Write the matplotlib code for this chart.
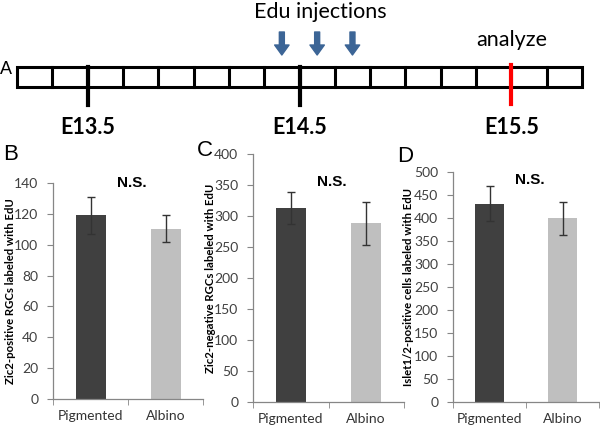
import matplotlib.pyplot as plt
from matplotlib.patches import Rectangle

# timeline (hours after E13.5)
cell_hours = 4
timeline_start = -8
timeline_end = 56
day_labels = ["E13.5", "E14.5", "E15.5"]
day_hours = [0, 24, 48]
injection_hours = [22, 26, 30]
analyze_hour = 48

# bar panels
groups = ["Pigmented", "Albino"]
zic2_pos = [119, 110.5]
zic2_pos_err = [12, 9]
zic2_neg = [313, 288]
zic2_neg_err = [25.5, 34.5]
islet = [431, 399]
islet_err = [37.5, 36.5]

ylabels = [
    "Zic2-positive RGCs labeled with EdU",
    "Zic2-negative RGCs labeled with EdU",
    "Islet1/2-positive cells labeled with EdU",
]

W, H = 600, 425
fig = plt.figure(figsize=(6, 4.25), dpi=100)

calibri = "Lato"
arial = "Liberation Sans"


def px_axes(l, t, r, b):
    return fig.add_axes([l / W, 1 - b / H, (r - l) / W, (b - t) / H])


# ---- panel A: timeline ----
ax = px_axes(17, 0, 582, 140)
ax.set_xlim(timeline_start, timeline_end)
ax.set_ylim(140, 0)
ax.axis("off")

box_top, box_bot = 67, 87
ax.add_patch(Rectangle((timeline_start, box_top), timeline_end - timeline_start,
                       box_bot - box_top, fill=False, lw=2.2, ec="black", clip_on=False))
for h in range(timeline_start + cell_hours, timeline_end, cell_hours):
    ax.plot([h, h], [box_top, box_bot], color="black", lw=2.2, clip_on=False)

for h, lab in zip(day_hours, day_labels):
    if h == analyze_hour:
        ax.plot([h, h], [box_top - 2, 104], color="#ff0000", lw=3, clip_on=False)
    else:
        ax.plot([h, h], [box_top, 105], color="black", lw=3, clip_on=False)
    ax.text(h, 128, lab, ha="center", va="center", fontsize=15.5,
            fontweight="bold", family=calibri)

for h in injection_hours:
    ax.annotate("", xy=(h, 55), xytext=(h, 32),
                arrowprops=dict(arrowstyle="simple,head_width=1.3,head_length=0.9,tail_width=0.45",
                                color="#3c6596", shrinkA=0, shrinkB=0, mutation_scale=8))
ax.text(26.4, 12, "Edu injections", ha="center", va="center", fontsize=15.5, family=calibri)
ax.text(analyze_hour, 40, "analyze", ha="center", va="center", fontsize=15.5, family=calibri)

fig.text(0 / W, 1 - 70 / H, "A", fontsize=13, family=arial, ha="left", va="center")

# ---- panels B-D ----
panels = [
    (zic2_pos, zic2_pos_err, 140, 20, (53, 183, 203, 399), "B", (3, 155), 140, 11),
    (zic2_neg, zic2_neg_err, 400, 50, (253, 154, 404, 402), "C", (197, 151), 355, 210),
    (islet, islet_err, 500, 50, (453, 172, 599, 402), "D", (397, 156), 482, 409),
]

for (vals, errs, ymax, step, box, letter, lpos, ns_y, lab_x), ylab in zip(panels, ylabels):
    ax = px_axes(*box)
    x = range(len(groups))
    ax.bar(x, vals, width=0.4, color=["#404040", "#bfbfbf"], zorder=2)
    ax.errorbar(x, vals, yerr=errs, fmt="none", ecolor="#333333", elinewidth=1,
                capsize=3, capthick=1, zorder=3)
    ax.set_xlim(-0.5, 1.5)
    ax.set_ylim(0, ymax)
    ax.set_yticks(range(0, ymax + 1, step))
    ax.set_xticks(list(x))
    ax.set_xticklabels(groups)
    ax.set_xticks([-0.5, 0.5, 1.5], minor=True)
    ax.tick_params(axis="x", which="major", length=0, pad=8, labelsize=10,
                   labelcolor="#333333")
    ax.tick_params(axis="x", which="minor", length=4, color="#868686", direction="out")
    ax.tick_params(axis="y", length=4, color="#868686", labelsize=10,
                   labelcolor="#404040", pad=6.5)
    for lab in ax.get_xticklabels() + ax.get_yticklabels():
        lab.set_family(calibri)
    for s in ["top", "right"]:
        ax.spines[s].set_visible(False)
    for s in ["left", "bottom"]:
        ax.spines[s].set_color("#868686")
        ax.spines[s].set_linewidth(0.9)
    # y label placed at its own x position
    fig.text(lab_x / W, 1 - (box[1] + box[3]) / 2 / H, ylab, rotation=90,
             ha="center", va="center", fontsize=8.2, fontweight="bold", family=calibri)
    ax.text(0.55, ns_y, "N.S.", ha="center", va="center", fontsize=11,
            fontweight="bold", family=arial)
    fig.text(lpos[0] / W, 1 - lpos[1] / H, letter, fontsize=16, family=arial,
             ha="left", va="center")

fig.savefig("out.png", dpi=100)
